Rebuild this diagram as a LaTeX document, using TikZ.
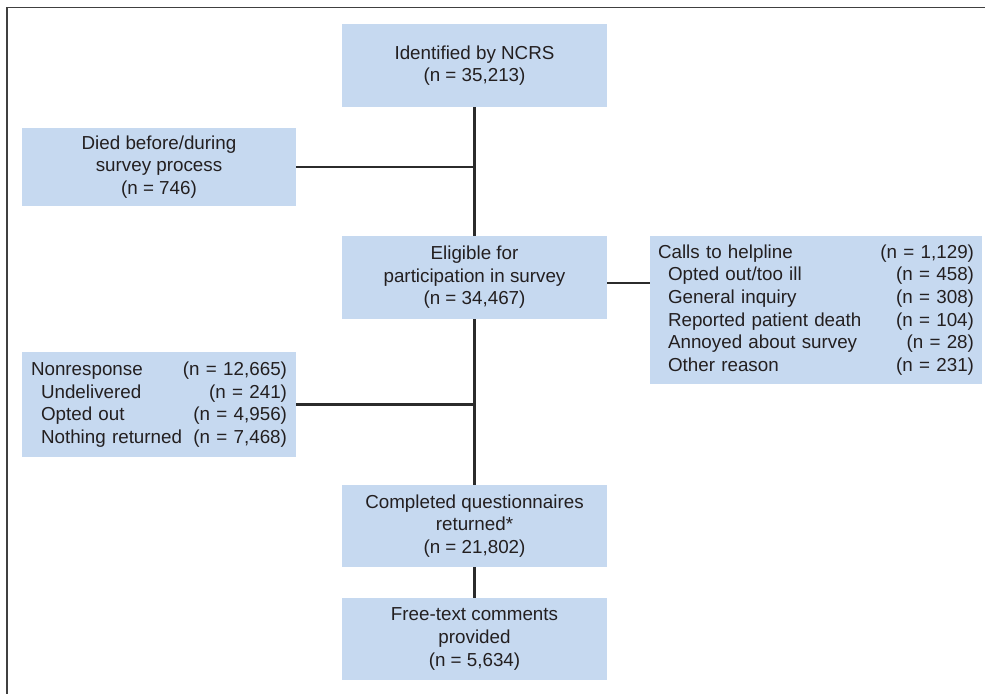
\documentclass[tikz,border=0pt]{standalone}
\usepackage{fontspec}
\setmainfont{Liberation Sans}
\usepackage{xcolor}
\definecolor{flowFill}{HTML}{C6D9F0}
\definecolor{flowText}{HTML}{231F20}
\definecolor{flowLine}{HTML}{2B2B2B}
\usepackage{tikz}
\usetikzlibrary{positioning,calc}

\begin{document}
\begin{tikzpicture}[x=1pt, y=-1pt,
  every node/.style={font=\fontsize{18.8}{22.6}\selectfont, text=flowText},
  flowbox/.style={fill=flowFill, inner sep=0pt, align=center},
  listbox/.style={fill=flowFill, inner sep=0pt, align=left},
  link/.style={line width=2.2pt, draw=flowLine}]
  \useasboundingbox (0,0) rectangle (985,694);
  % Frame
  \draw[line width=1.8pt, draw=flowLine!90] (985,7.5) -- (7,7.5) -- (7,694);
  % Main column
  \node[flowbox, minimum width=265, minimum height=83] (ident) at (474.5,65.5)
    {Identified by NCRS\\(n = 35,213)};
  \node[flowbox, minimum width=265, minimum height=83] (elig) at (474.5,277.5)
    {Eligible for\\participation in survey\\(n = 34,467)};
  \node[flowbox, minimum width=265, minimum height=82] (compl) at (474.5,526)
    {Completed questionnaires\\returned*\\(n = 21,802)};
  \node[flowbox, minimum width=265, minimum height=82] (free) at (474.5,639)
    {Free-text comments\\provided\\(n = 5,634)};
  % Side boxes
  \node[flowbox, minimum width=274, minimum height=78] (died) at (159,167)
    {Died before/during\\survey process\\(n = 746)};
  \node[listbox, minimum width=332, minimum height=148, text width=316] (calls) at (816,310)
    {Calls to helpline\hfill(n = 1,129)\\
     \hspace*{10pt}Opted out/too ill\hfill(n = 458)\\
     \hspace*{10pt}General inquiry\hfill(n = 308)\\
     \hspace*{10pt}Reported patient death\hfill(n = 104)\\
     \hspace*{10pt}Annoyed about survey\hfill(n = 28)\\
     \hspace*{10pt}Other reason\hfill(n = 231)};
  \node[listbox, minimum width=274, minimum height=105, text width=256] (nonresp) at (159,404.5)
    {Nonresponse\hfill(n = 12,665)\\
     \hspace*{10pt}Undelivered\hfill(n = 241)\\
     \hspace*{10pt}Opted out\hfill(n = 4,956)\\
     \hspace*{10pt}Nothing returned\hfill(n = 7,468)};
  % Connectors
  \coordinate (jdied) at (ident.south |- died.east);
  \coordinate (jnon) at (elig.south |- nonresp.east);
  \coordinate (jcalls) at ($(elig.east)+(0,5.5)$);
  \draw[link] (ident.south) -- (elig.north);
  \draw[link] (elig.south) -- (compl.north);
  \draw[link] (compl.south) -- (free.north);
  \draw[link] (died.east) -- (jdied);
  \draw[link] (nonresp.east) -- (jnon);
  \draw[link] (jcalls) -- (calls.west |- jcalls);
\end{tikzpicture}
\end{document}
